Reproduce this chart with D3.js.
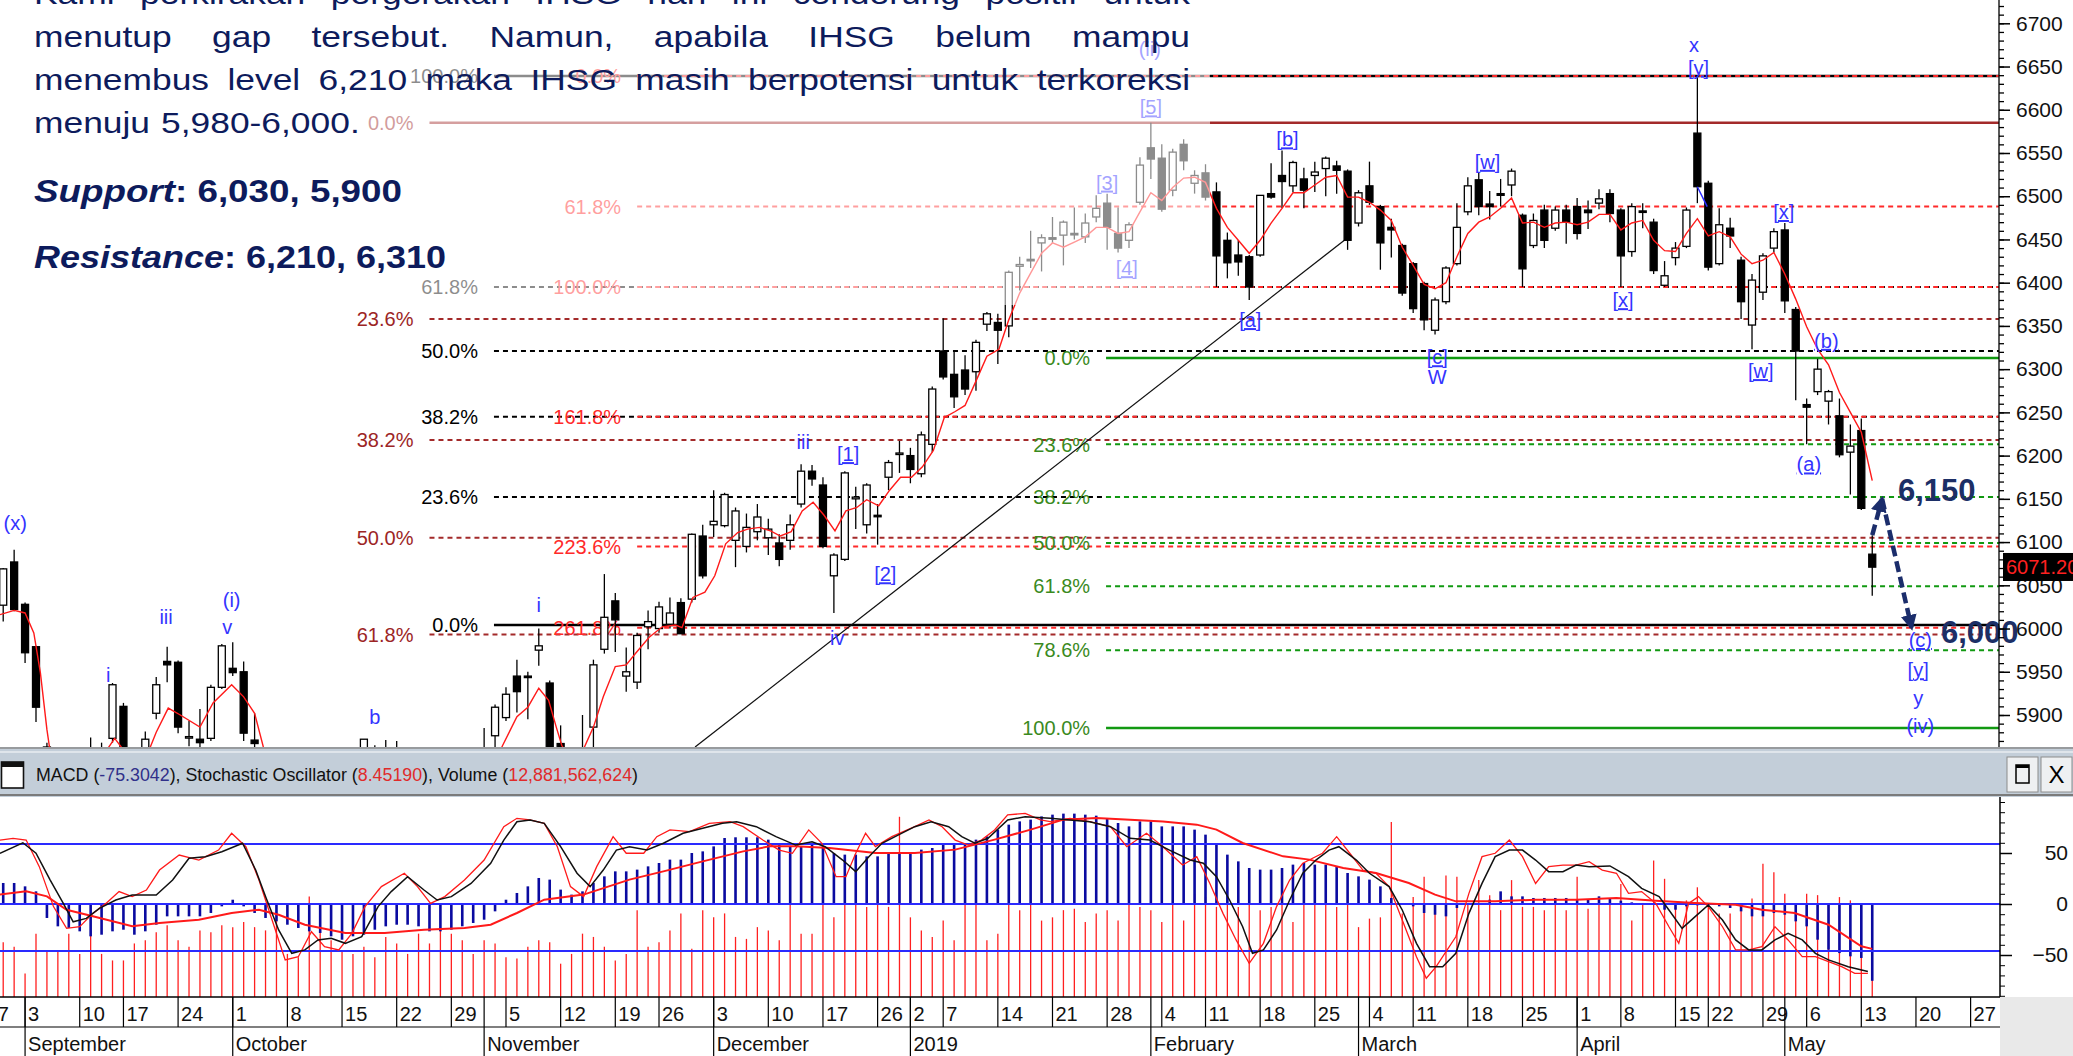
<!DOCTYPE html>
<html><head><meta charset="utf-8">
<script src="https://cdn.jsdelivr.net/npm/d3@7/dist/d3.min.js"></script>
<style>
html,body{margin:0;padding:0;background:#fff;overflow:hidden}
svg{display:block}
text{font-family:"Liberation Sans",Arial,sans-serif}
</style></head><body>
<svg id="chart" width="2073" height="1056"></svg>
<script>
// ---------------- DATA ----------------
// daily candles, slot index 0 = 3 Sep 2018 (first slot -3 = 29 Aug 2018), last slot 168 = 13 May 2019
const firstSlot = -3;
const opens = [6027,6077,6028,5979,5863,5690,5720,5790,5845,5830,5873,5910,5850,5858,5902,5962,5961,5874,5872,5873,5932,5954,5950,5871,
5860,5800,5750,5730,5720,5800,5710,5750,5720,5790,5860,5840,5835,5790,5780,5800,5750,5790,5750,5740,5840,
5876,5897,5945,5945,5975,5937,5867,5720,5730,5886,5976,6032,5945,5938,6002,6000,6005,6030,6034,6107,6120,6119,6102,6095,6112,6105,6099,6102,
6144,6182,6166,6061,6080,6150,6120,6131,6175,6202,6200,6179,6213,6321,6294,6299,6297,6352,6354,6350,6419,6427,6446,6452,6455,6457,6453,6476,
6492,6457,6449,6493,6556,6544,6507,6560,6515,6527,6505,6449,6432,6430,6432,6503,6524,6512,6520,6524,6532,6535,6529,6469,6512,6488,6464,6443,
6422,6399,6345,6378,6422,6482,6519,6491,6503,6513,6478,6443,6484,6463,6484,6488,6484,6492,6503,6484,6436,6483,6470,6397,6429,6442,6573,6515,
6422,6463,6426,6351,6389,6440,6461,6369,6259,6274,6263,6246,6204,6229,6086];
const highs = [6070,6091,6030,5980,5868,5740,5790,5855,5874,5868,5937,5914,5856,5881,5944,5979,5963,5893,5907,5935,5982,5984,5962,5902,
5862,5805,5760,5740,5830,5810,5760,5760,5770,5872,5865,5871,5870,5800,5810,5805,5800,5795,5760,5840,5885,
5912,5932,5964,5950,6000,5940,5888,5760,5900,5964,6063,6041,5978,5995,6021,6031,6036,6035,6110,6120,6160,6157,6140,6133,6144,6127,6109,6132,
6190,6189,6175,6087,6182,6164,6168,6144,6195,6217,6209,6228,6280,6359,6321,6316,6334,6366,6364,6414,6430,6460,6456,6476,6472,6487,6480,6501,
6503,6487,6470,6545,6585,6560,6555,6566,6530,6537,6516,6458,6449,6432,6501,6538,6553,6541,6533,6540,6546,6541,6531,6507,6540,6490,6474,6445,
6424,6401,6383,6419,6492,6522,6527,6506,6520,6532,6480,6480,6490,6488,6490,6498,6495,6508,6508,6486,6492,6492,6474,6425,6447,6487,6638,6518,
6486,6475,6430,6410,6434,6463,6469,6372,6266,6312,6276,6266,6236,6243,6108];
const lows = [6008,6020,5960,5892,5680,5660,5700,5780,5800,5790,5868,5845,5820,5850,5895,5938,5879,5864,5860,5870,5930,5945,5870,5855,
5800,5740,5710,5700,5710,5700,5690,5700,5710,5780,5820,5810,5790,5760,5770,5740,5740,5740,5700,5730,5830,
5850,5893,5903,5895,5957,5790,5700,5700,5720,5850,5971,5973,5927,5930,5976,5995,6000,5994,6030,6058,6106,6117,6071,6088,6102,6085,6072,6091,
6140,6165,6093,6018,6078,6115,6110,6097,6160,6180,6168,6175,6204,6288,6255,6270,6275,6344,6306,6337,6391,6417,6413,6446,6420,6450,6446,6470,
6438,6435,6440,6490,6520,6482,6500,6530,6503,6495,6395,6405,6408,6380,6430,6497,6486,6505,6486,6505,6500,6503,6438,6465,6490,6415,6429,6385,
6365,6345,6340,6375,6420,6478,6478,6473,6488,6500,6395,6440,6440,6460,6445,6450,6462,6485,6470,6395,6430,6463,6410,6395,6420,6440,6492,6414,
6420,6440,6358,6323,6380,6435,6365,6264,6213,6270,6236,6198,6155,6137,6038];
const closes = [6069,6022,5972,5909,5690,5720,5776,5851,5830,5815,5935,5850,5835,5872,5935,5958,5886,5875,5868,5932,5980,5949,5879,5867,
5810,5756,5731,5720,5820,5702,5756,5715,5756,5872,5845,5837,5797,5778,5804,5749,5796,5758,5727,5831,5860,
5909,5924,5927,5944,5980,5800,5712,5727,5840,5958,6013,6010,5950,5992,6008,6025,6018,5994,6109,6061,6124,6155,6136,6117,6129,6115,6080,6120,
6182,6173,6095,6085,6180,6152,6166,6130,6192,6203,6184,6224,6277,6291,6268,6277,6331,6364,6345,6412,6421,6426,6452,6451,6470,6456,6469,6486,
6464,6440,6467,6536,6543,6485,6551,6541,6524,6499,6431,6423,6424,6395,6501,6499,6517,6539,6507,6528,6544,6530,6449,6504,6493,6446,6461,6388,
6370,6357,6380,6417,6464,6512,6488,6488,6501,6529,6416,6472,6449,6484,6470,6457,6481,6497,6480,6431,6488,6482,6414,6408,6440,6484,6511,6418,
6467,6454,6378,6403,6431,6459,6379,6321,6256,6300,6274,6201,6211,6139,6071];

// 5-day moving average of close: [slot, price]
const maPoints = [[-3.3,6016],[-2,6021],[-1,6018],[-0.2,5995],[0.4,5949],[1,5883],[1.5,5840],[3,5760],[5,5800],[6.5,5860],[7.2,5873],[8.1,5858],[9,5845],[10.3,5858],[11,5880],[12.1,5908],[13.2,5900],[15,5886],[16.2,5914],[17.9,5935],[19,5921],[20,5902],[20.8,5863],[22,5830],[25,5780],[28,5755],[31,5790],[34,5815],[37,5790],[40,5790],[42.7,5865],[44,5898],[45,5909],[46,5931],[46.9,5917],[47.6,5886],[48.1,5865],[49,5845],[50,5858],[51,5886],[51.9,5921],[53,5956],[54,5958],[54.9,5972],[56.1,5990],[57.3,6002],[58.5,6004],[59.1,6001],[60.1,6036],[61.2,6042],[62.1,6061],[63.1,6098],[64.2,6111],[65.1,6115],[66.2,6117],[67.2,6113],[68.1,6107],[69.1,6112],[70.1,6136],[71.1,6146],[72.1,6131],[73.1,6113],[74.1,6136],[75.1,6140],[76,6149],[77.1,6142],[78.1,6160],[79.1,6175],[80.1,6175],[81.1,6187],[82.1,6206],[83.1,6244],[84.1,6251],[85,6258],[86.1,6289],[87,6315],[88.1,6323],[89,6357],[90,6388],[91,6411],[92,6434],[93,6446],[94,6441],[95,6447],[96,6453],[97,6464],[98,6464],[99,6457],[100,6459],[101,6482],[102,6504],[103,6495],[104,6510],[105,6521],[106,6522],[107,6516],[108,6486],[109,6464],[110,6449],[111,6434],[112,6449],[113,6469],[114,6486],[115,6504],[116,6504],[117,6513],[118,6522],[119,6524],[120,6499],[121,6499],[122,6493],[123,6484],[124,6472],[125,6441],[126,6420],[127,6398],[128,6393],[129,6400],[130,6430],[131,6457],[132,6470],[133,6476],[134,6486],[135,6498],[136,6469],[137,6470],[138,6464],[139,6469],[140,6470],[141,6467],[142,6470],[143,6479],[144,6479],[145,6461],[146,6469],[147,6472],[148,6449],[149,6437],[150,6436],[151,6457],[152,6474],[153,6454],[154,6459],[155,6453],[156,6433],[157,6422],[158,6426],[159,6435],[160,6410],[161,6381],[162,6349],[163,6323],[164,6305],[165,6273],[166,6250],[167,6227],[168,6171]];

// Fibonacci objects: level prices and labels
const fibA = {start:41.9, color:"#000000", labelColor:"#000000", prices:[6004,6152,6245,6321,6395,6639], labels:["0.0%","23.6%","38.2%","50.0%","61.8%","100.0%"], solid:[true,false,false,false,false,true]};
const fibB = {start:36.0, color:"#a32a2a", labelColor:"#9c2525", prices:[6585,6358,6218,6105,5993], labels:["0.0%","23.6%","38.2%","50.0%","61.8%"], solid:[true,false,false,false,false]};
const fibC = {start:55.0, color:"#ff2a2a", labelColor:"#ff2a2a", prices:[6639,6488,6395,6245,6095,6001], labels:["0.0%","61.8%","100.0%","161.8%","223.6%","261.8%"], solid:[false,false,false,false,false,false]};
const fibD = {start:97.9, color:"#119911", labelColor:"#3a8a1e", prices:[6313,6213,6152,6099,6049,5975,5885], labels:["0.0%","23.6%","38.2%","50.0%","61.8%","78.6%","100.0%"], solid:[true,false,false,false,false,false,true]};

// Elliott wave labels: [text, slot, price, boxed]
const waveLabels = [["(x)",-1.9,6122,0],["i",6.6,5946,0],["iii",11.9,6013,0],["(i)",17.9,6033,0],["v",17.5,6002,0],["b",31.0,5898,0],["i",46.0,6027,0],["iii",70.2,6216,0],["[1]",74.3,6202,1],["[2]",77.7,6063,1],["iv",73.3,5989,0],["[3]",98.0,6516,1],["[4]",99.8,6417,1],["[5]",102.0,6603,1],["(ii)",101.9,6671,0],["[a]",111.1,6357,1],["[b]",114.5,6566,1],["[c]",128.2,6314,1],["W",128.2,6291,0],["[w]",132.8,6540,1],["[x]",145.2,6380,1],["x",151.7,6675,0],["[y]",152.1,6649,1],["[x]",159.9,6482,1],["[w]",157.8,6298,1],["(b)",163.8,6333,1],["(a)",162.2,6190,1],["(c)",172.4,5987,1],["[y]",172.2,5952,1],["y",172.2,5920,0],["(iv)",172.4,5888,0]];

const trendLine = [[60.3,5863],[120,6452]];
const waveSeg = [[152,6511],[152.9,6488]];
const arrowUp = [[168,6108],[168.9,6150]];
const arrowDown = [[168.9,6150],[171.6,6001]];

// lower pane: MACD (histogram), signal, stochastic, volume (billions)
const macd = [20.6,20.6,17.3,12.4,-13.7,-21.9,-23.5,-26.8,-31.7,-30.1,-26.8,-25.2,-30.1,-26.8,-20.3,-12.1,-12.1,-12.1,-12.1,-8.8,
-2.3,4.2,-2.3,-8.8,-13.7,-17.0,-20.3,-23.5,-26.8,-28.4,-31.7,-35.0,-31.7,-30.1,-25.2,-21.9,-20.3,-20.3,-21.9,-26.8,
-26.8,-25.2,-21.9,-18.6,-15.4,-7.2,4.2,10.8,17.3,25.5,23.9,14.1,9.2,12.4,20.6,27.1,32.0,32.0,33.7,36.9,
40.2,43.5,43.5,50.0,51.6,56.5,64.7,65.4,65.4,65.4,63.1,59.8,56.5,56.5,58.2,56.5,50.0,48.4,48.4,46.7,
46.7,50.0,50.0,50.0,53.3,54.9,58.2,58.2,59.8,63.1,66.3,72.9,77.8,81.0,82.7,85.9,87.6,88.6,88.6,87.6,
86.6,84.3,79.4,76.1,81.0,81.0,76.1,76.1,76.1,72.9,68.0,58.2,48.4,41.8,35.3,33.7,33.7,35.3,38.6,40.2,
38.6,38.6,36.9,30.4,27.1,23.9,17.3,5.9,0,-2.3,-8.8,-10.5,-12.1,-3.9,-0.7,1.0,4.2,12.4,7.5,7.5,
5.9,5.9,5.9,5.9,4.2,4.2,7.5,4.9,3.3,1.6,1.0,-0.7,-5.6,-5.6,-2.3,-1.3,-0.7,-2.3,-3.9,-7.2,
-12.1,-12.1,-8.8,-10.5,-17.0,-21.9,-35.0,-44.8,-48.1,-51.3,-52.9,-75.3];
const signalPts = [[-3.3,9.2],[-0.9,12.4],[1.0,7.5],[2.8,-5.6],[5.2,-12.1],[8.8,-21.9],[11.3,-18.6],[14.9,-15.4],[17.9,-8.8],[20.4,-5.6],[22.2,-10.5],[24.6,-20.3],[28.3,-28.4],[31.9,-28.4],[35.5,-25.2],[39.2,-23.5],[41.6,-20.3],[44.0,-8.8],[46.5,4.2],[50.1,9.2],[54.3,23.9],[57.4,32.0],[61.0,41.8],[64.7,51.6],[67.1,56.5],[69.5,56.5],[72.6,54.9],[76.8,50.0],[80.4,50.0],[84.1,53.3],[87.7,63.1],[91.0,72.9],[94.0,82.7],[97.0,84.3],[100.1,82.7],[103.1,81.0],[106.2,77.8],[108.0,72.9],[110.4,59.8],[114.1,46.7],[116.5,43.5],[119.6,35.3],[122.6,30.4],[125.6,20.6],[128.0,9.2],[129.9,2.6],[133.5,2.6],[137.2,4.2],[140.9,4.2],[144.6,5.9],[148.2,3.3],[151.8,1.0],[155.5,-0.7],[157.9,-5.6],[160.9,-8.8],[164.0,-20.3],[167.0,-41.5],[168,-44]];
const stochSlow = [[-3.3,74.8],[-1.2,80.7],[0,74.8],[1.3,59.8],[2.5,46.7],[3.4,36.4],[4.6,38.3],[5.8,43.9],[7.3,48.6],[8.8,51.4],[11,51.4],[12.5,59.8],[14,72.0],[15.5,72.9],[17,75.7],[18.9,80.4],[20.1,65.4],[21,50.5],[22.2,31.8],[23.4,18.7],[24.6,20.6],[25.8,26.2],[27,27.1],[28.3,24.3],[29.8,28.0],[31.3,44.9],[32.5,53.3],[34,61.7],[35.5,54.2],[36.7,48.6],[38,50.5],[39.8,57.9],[41.6,69.2],[42.8,82.2],[44,92.5],[45.2,93.5],[46.5,91.6],[48,78.5],[49.5,63.6],[50.7,56.1],[51.9,65.4],[53.1,76.6],[54.3,78.5],[55.9,76.6],[57.4,80.4],[59.2,86.0],[61,88.8],[62.8,91.6],[64.1,92.5],[65.9,89.7],[67.7,84.1],[69.5,79.4],[71,81.3],[72.2,78.5],[73.8,71.0],[75,64.5],[76.2,72.9],[77.4,80.4],[78.6,84.1],[80.4,89.7],[81.9,92.5],[83.5,89.7],[84.7,84.1],[85.9,80.4],[87.1,83.2],[88.9,93.5],[90.5,95.3],[92.8,94.4],[94.6,93.5],[96.4,92.5],[98.3,89.7],[100.1,83.2],[101.9,82.2],[103.7,76.6],[105.6,71.0],[106.8,69.2],[108,61.7],[109.2,48.6],[110.4,33.6],[111.3,18.7],[112.3,20.6],[113.5,31.8],[114.7,48.6],[115.9,63.6],[117.1,71.0],[118.3,76.6],[119.2,78.5],[120.8,71.0],[122,63.6],[123.8,56.1],[125,43.0],[126.3,24.3],[127.5,11.2],[128.7,11.2],[129.9,18.7],[131.1,41.1],[132.3,57.9],[133.5,72.9],[134.8,76.6],[136,76.6],[137.2,71.0],[138.4,64.5],[139.7,64.5],[140.9,68.2],[142.1,67.3],[144,67.7],[145.7,61.7],[146.9,55.1],[148.5,50.5],[149.4,43.0],[150.6,32.7],[151.8,39.3],[153,45.8],[154.3,37.4],[155.5,26.2],[156.7,20.6],[157.9,20.6],[159.1,26.2],[160.3,29.9],[161.6,26.2],[162.8,18.7],[164,15.0],[165.8,11.2],[167.6,8.5]];
const stochFast = [[-3.3,82.2],[-2.1,83.2],[-0.9,82.2],[0.3,67.3],[1.6,44.9],[2.8,32.7],[4,33.6],[5.2,41.1],[6.4,46.7],[7.6,53.3],[8.8,50.5],[10.1,54.2],[11.3,65.4],[13.1,73.8],[14.9,71.0],[16.7,76.6],[17.9,86.0],[19.2,78.5],[20.4,59.8],[21.6,37.4],[22.8,15.0],[24,16.8],[25.2,30.8],[26.4,22.4],[27.7,20.6],[28.9,29.9],[30.1,44.9],[31.6,56.1],[33.7,63.6],[34.9,56.1],[36.1,46.7],[37.4,50.5],[39.2,59.8],[41,71.0],[42.8,89.7],[44,94.4],[45.2,93.5],[46.5,91.6],[47.7,78.5],[48.9,56.1],[50.1,50.5],[51.3,67.3],[52.8,84.1],[54,74.8],[55.6,74.8],[56.8,84.1],[58,87.9],[59.8,86.9],[61.6,91.6],[63.5,92.5],[64.7,89.7],[66.5,82.2],[68,76.6],[69.2,74.8],[70.7,87.9],[71.9,80.4],[73.2,61.7],[74.1,61.7],[75,74.8],[75.9,86.0],[76.8,78.5],[78.3,84.1],[80.4,89.7],[81.7,93.5],[82.9,89.7],[84.1,82.2],[85.3,79.4],[86.5,82.2],[87.7,87.9],[88.9,96.3],[90.5,97.2],[91.9,93.5],[92.8,92.5],[94.6,94.4],[96.4,92.5],[98.3,89.7],[99.8,78.5],[101.6,86.0],[103.1,78.5],[104.9,68.2],[106.2,72.9],[107.4,57.9],[108.6,41.1],[109.8,26.2],[111,13.1],[112.3,24.3],[113.5,44.9],[114.7,59.8],[115.9,69.2],[117.7,74.8],[119,84.1],[120.2,74.8],[121.4,65.4],[122.6,63.6],[123.8,56.1],[125,37.4],[126.3,16.8],[127.2,4.7],[128.1,11.2],[129.9,28.0],[131.1,52.3],[132.3,72.9],[133.5,74.8],[134.8,82.2],[136,72.9],[137.2,57.9],[138.4,67.3],[139.7,68.2],[140.9,68.2],[142.1,70.1],[143.3,65.4],[144.6,63.6],[145.7,52.3],[146.9,53.3],[148.2,46.7],[149.4,33.6],[150.3,24.3],[151.2,46.7],[152.1,50.5],[153,44.9],[154.3,33.6],[155.5,20.6],[156.7,20.6],[157.9,22.4],[159.1,33.6],[160.3,26.2],[161.6,16.8],[162.8,16.8],[164,14.0],[165.2,11.2],[166.4,7.5],[167.6,7.5]];
const volume = [8.4,7.7,3.6,9.7,7.1,7.1,9.7,6.6,10.2,6.6,5.6,5.6,8.2,8.7,9.9,11.0,8.7,7.7,10.2,9.9,
11.0,10.7,11.5,10.7,10.2,13.3,6.6,6.1,15.4,10.7,8.7,7.1,6.6,7.7,6.1,9.2,8.2,6.6,9.7,8.2,
10.7,9.7,8.7,6.6,8.7,8.2,6.1,5.9,7.7,8.7,8.4,5.1,6.6,9.7,9.2,7.7,5.6,6.6,13.3,7.7,
8.4,10.2,12.8,7.4,13.3,12.2,12.8,9.2,8.9,10.7,10.2,8.7,14.3,9.7,9.7,15.8,12.2,14.3,17.3,13.8,
16.3,13.8,27.6,12.2,10.2,9.2,11.7,8.7,15.8,16.1,8.7,9.7,19.1,13.3,14.8,
11.7,12.2,13.3,13.5,11.5,12.8,13.3,11.7,16.8,13.8,13.3,11.5,17.3,11.7,15.8,15.3,13.8,14.8,13.8,16.3,
13.3,13.8,14.8,11.5,17.3,16.3,14.8,13.8,16.1,10.7,12.0,12.2,26.8,12.8,15.3,18.4,12.8,18.6,18.4,14.3,
17.9,15.6,13.3,17.9,13.8,13.8,13.3,14.3,13.3,18.4,13.5,15.3,14.3,17.3,11.7,14.3,20.9,18.1,13.8,14.8,
16.8,14.3,12.8,12.8,14.3,15.1,20.4,19.1,15.8,14.3,15.8,15.6,14.3,15.3,14.8,14.0,12.8];

// time axis: [label, slot]
const dayTicks = [["27",-4.8],["3",-1],["10",4],["17",8],["24",13],["1",18],["8",23],["15",28],["22",33],["29",38],["5",43],["12",48],["19",53],["26",57],["3",62],["10",67],["17",72],["26",77],["2",80],["7",83],["14",88],["21",93],["28",98],["4",103],["11",107],["18",112],["25",117],["4",122],["11",126],["18",131],["25",136],["1",141],["8",145],["15",150],["22",153],["29",158],["6",162],["13",167],["20",172],["27",177]];
const monthTicks = [["September",-1],["October",18],["November",41],["December",62],["2019",80],["February",102],["March",121],["April",141],["May",160]];
const priceTicks = [5900,5950,6000,6050,6100,6150,6200,6250,6300,6350,6400,6450,6500,6550,6600,6650,6700];
const lastPrice = 6071.2;

const textLines = ["Kami perkirakan pergerakan IHSG hari ini cenderung positif untuk",
 "menutup gap tersebut. Namun, apabila IHSG belum mampu",
 "menembus level 6,210 maka IHSG masih berpotensi untuk terkoreksi",
 "menuju 5,980-6,000."];

// ---------------- DRAWING ----------------
const svg = d3.select("#chart");
const x = d3.scaleLinear().domain([0,168]).range([36, 36+168*10.93]);
const y = d3.scaleLinear().domain([5900,6700]).range([715, 23.3]);
const yMacd = d3.scaleLinear().domain([-50,50]).range([955,853]);
const yStoch = d3.scaleLinear().domain([20,80]).range([951,844]);
const yVol = d3.scaleLinear().domain([0,10]).range([997,931.7]);
const PANE_R = 1999, PANE_B = 747;

const defs = svg.append("defs");
defs.append("clipPath").attr("id","clipP").append("rect").attr("x",0).attr("y",0).attr("width",PANE_R).attr("height",PANE_B);
defs.append("clipPath").attr("id","clipL").append("rect").attr("x",0).attr("y",797).attr("width",2000).attr("height",200);
const mk = defs.append("marker").attr("id","arr").attr("viewBox","0 0 10 10").attr("refX",8).attr("refY",5)
  .attr("markerWidth",16).attr("markerHeight",16).attr("markerUnits","userSpaceOnUse").attr("orient","auto");
mk.append("path").attr("d","M0,0L10,5L0,10z").attr("fill","#1b2d6b");

const pane = svg.append("g").attr("clip-path","url(#clipP)");

// fib lines
[fibB, fibA, fibC, fibD].forEach(f=>{
  const g = pane.append("g");
  f.prices.forEach((p,k)=>{
    g.append("line").attr("x1",x(f.start)).attr("x2",PANE_R).attr("y1",y(p)).attr("y2",y(p))
     .attr("stroke",f.color).attr("stroke-width", f.solid[k]?2.5:2)
     .attr("stroke-dasharray", f.solid[k]?null:"5,4");
    g.append("text").attr("x",x(f.start)-16).attr("y",y(p)).attr("dy","0.36em").attr("text-anchor","end")
     .attr("font-size",20).attr("fill",f.labelColor).text(f.labels[k]);
  });
});

// trend line
const lineGen = d3.line().x(d=>x(d[0])).y(d=>y(d[1]));
pane.append("path").attr("d",lineGen(trendLine)).attr("stroke","#111").attr("stroke-width",1.3).attr("fill","none");

// candles
const candles = opens.map((o,k)=>({slot:firstSlot+k,o,h:highs[k],l:lows[k],c:closes[k]}));
const cg = pane.append("g");
cg.selectAll("line").data(candles).join("line")
  .attr("x1",d=>x(d.slot)).attr("x2",d=>x(d.slot)).attr("y1",d=>y(d.h)).attr("y2",d=>y(d.l))
  .attr("stroke","#000").attr("stroke-width",1.3);
cg.selectAll("rect").data(candles).join("rect")
  .attr("x",d=>x(d.slot)-3.5).attr("width",7)
  .attr("y",d=>y(Math.max(d.o,d.c))).attr("height",d=>Math.max(1.5,Math.abs(y(d.o)-y(d.c))))
  .attr("fill",d=>d.c>=d.o?"#fff":"#000").attr("stroke","#000").attr("stroke-width",1.3);

// moving average
pane.append("path").attr("d",lineGen(maPoints)).attr("stroke","#ff1a1a").attr("stroke-width",1.4).attr("fill","none");
pane.append("path").attr("d",lineGen(waveSeg)).attr("stroke","#2a2aff").attr("stroke-width",1.5).attr("fill","none");

// wave labels
pane.append("g").selectAll("text").data(waveLabels).join("text")
  .attr("x",d=>x(d[1])).attr("y",d=>y(d[2])).attr("dy","0.36em").attr("text-anchor","middle")
  .attr("font-size",20).attr("fill","#3434ff").attr("text-decoration",d=>d[3]?"underline":null).text(d=>d[0]);

// arrows + targets
[arrowUp, arrowDown].forEach(a=>{
  pane.append("path").attr("d",lineGen(a)).attr("stroke","#1b2d6b").attr("stroke-width",4.5)
   .attr("stroke-dasharray","11,5").attr("fill","none").attr("marker-end","url(#arr)");
});
svg.append("text").attr("x",1898).attr("y",501).attr("font-family","'Open Sans',sans-serif").attr("font-weight",700)
  .attr("font-size",31).attr("fill","#1c2f66").text("6,150");
svg.append("text").attr("x",1941).attr("y",643).attr("font-family","'Open Sans',sans-serif").attr("font-weight",700)
  .attr("font-size",31).attr("fill","#1c2f66").text("6,000");

// overlay with commentary
svg.append("rect").attr("x",0).attr("y",0).attr("width",1210).attr("height",305).attr("fill","#fff").attr("opacity",0.55);
const tg = svg.append("g").attr("fill","#0d1b5c").attr("font-family","'Open Sans',sans-serif").attr("font-size",29);
function justifyLine(str, yb, x0, x1, stretch){
  const words = str.split(" ");
  const nodes = words.map(w=>tg.append("text").attr("y",yb).text(w));
  const widths = nodes.map(n=>n.node().getComputedTextLength()*stretch);
  nodes.forEach((n,k)=>n.attr("textLength",widths[k]).attr("lengthAdjust","spacingAndGlyphs"));
  const gap = x1==null ? 9*stretch : (x1-x0-d3.sum(widths))/(words.length-1);
  let cx = x0;
  nodes.forEach((n,k)=>{ n.attr("x",cx); cx += widths[k]+gap; });
}
justifyLine(textLines[0], 4, 34, 1190, 1.22);
justifyLine(textLines[1], 47, 34, 1190, 1.22);
justifyLine(textLines[2], 90, 34, 1190, 1.22);
justifyLine(textLines[3], 133, 34, null, 1.22);
function boldLine(label, rest, yb, targetW){
  const t = tg.append("text").attr("x",34).attr("y",yb).attr("font-weight",700).attr("font-size",31);
  t.append("tspan").attr("font-style","italic").text(label);
  t.append("tspan").text(rest);
  t.attr("textLength",targetW).attr("lengthAdjust","spacingAndGlyphs");
}
boldLine("Support", ": 6,030, 5,900", 202, 368);
boldLine("Resistance", ": 6,210, 6,310", 268, 412);

// price axis
const axisG = svg.append("g").attr("transform",`translate(${PANE_R},0)`);
axisG.append("line").attr("x1",0).attr("x2",0).attr("y1",0).attr("y2",PANE_B).attr("stroke","#000").attr("stroke-width",1.5);
axisG.call(d3.axisRight(y).tickValues(d3.range(5860,6730,10)).tickSize(5).tickFormat(""))
  .call(g=>{g.select(".domain").remove(); g.selectAll("line").attr("stroke","#000").attr("stroke-width",1.3);});
const majG = svg.append("g").attr("transform",`translate(${PANE_R},0)`);
majG.call(d3.axisRight(y).tickValues(priceTicks).tickSize(11).tickPadding(6).tickFormat(d3.format("d")))
  .call(g=>{g.select(".domain").remove(); g.selectAll("line").attr("stroke","#000").attr("stroke-width",1.5);
    g.selectAll("text").attr("font-size",21).attr("font-family","'Liberation Sans',Arial,sans-serif").attr("fill","#111");});
svg.append("rect").attr("x",2003).attr("y",y(lastPrice)-14).attr("width",72).attr("height",28).attr("fill","#000");
svg.append("text").attr("x",2006).attr("y",y(lastPrice)).attr("dy","0.36em").attr("font-size",20).attr("fill","#ff2020").text(d3.format(".3f")(lastPrice));

// separator + header of lower pane
svg.append("rect").attr("x",0).attr("y",747).attr("width",2073).attr("height",50).attr("fill","#c3ced9");
svg.append("line").attr("x1",0).attr("x2",2073).attr("y1",748).attr("y2",748).attr("stroke","#8a8a8a").attr("stroke-width",1.5);
svg.append("line").attr("x1",0).attr("x2",2073).attr("y1",752).attr("y2",752).attr("stroke","#e8ecf0").attr("stroke-width",1.5);
svg.append("line").attr("x1",0).attr("x2",2073).attr("y1",795).attr("y2",795).attr("stroke","#7b7b7b").attr("stroke-width",2);
svg.append("rect").attr("x",1.5).attr("y",762).attr("width",22).attr("height",26).attr("fill","#fff").attr("stroke","#111").attr("stroke-width",1.6);
svg.append("rect").attr("x",1.5).attr("y",762).attr("width",22).attr("height",5).attr("fill","#111");
const ht = svg.append("text").attr("x",36).attr("y",781).attr("font-size",18).attr("fill","#111");
[["MACD (","#111"],["-75.3042","#30308a"],["), Stochastic Oscillator (","#111"],["8.45190","#e02a2a"],["), Volume (","#111"],["12,881,562,624","#e02a2a"],[")","#111"]]
  .forEach(p=>ht.append("tspan").attr("fill",p[1]).text(p[0]));
ht.attr("textLength",602).attr("lengthAdjust","spacingAndGlyphs");
[[2007,"win"],[2041,"X"]].forEach(b=>{
  svg.append("rect").attr("x",b[0]).attr("y",757).attr("width",31).attr("height",35).attr("fill","#eef0f2").attr("stroke","#8c8c8c");
  if(b[1]==="X") svg.append("text").attr("x",b[0]+15.5).attr("y",783).attr("text-anchor","middle").attr("font-size",24).attr("fill","#000").text("X");
  else { svg.append("rect").attr("x",b[0]+9).attr("y",765).attr("width",13).attr("height",18).attr("fill","none").attr("stroke","#000").attr("stroke-width",1.5);
         svg.append("rect").attr("x",b[0]+9).attr("y",765).attr("width",13).attr("height",3).attr("fill","#000"); }
});

// lower pane
const low = svg.append("g").attr("clip-path","url(#clipL)");
const vols = volume.map((v,k)=>({slot:firstSlot+k,v}));
low.selectAll("line.vol").data(vols).join("line").attr("class","vol")
  .attr("x1",d=>x(d.slot)).attr("x2",d=>x(d.slot)).attr("y1",yVol(0)).attr("y2",d=>yVol(d.v))
  .attr("stroke","#ff2020").attr("stroke-width",1.3);
const hist = macd.map((v,k)=>({slot:firstSlot+k,v}));
low.selectAll("rect.h").data(hist).join("rect").attr("class","h")
  .attr("x",d=>x(d.slot)-1.3).attr("width",2.6)
  .attr("y",d=>Math.min(yMacd(0),yMacd(d.v))).attr("height",d=>Math.abs(yMacd(d.v)-yMacd(0)))
  .attr("fill","#0a0aa0");
[yStoch(80), yMacd(0), yStoch(20)].forEach(v=>low.append("line").attr("x1",0).attr("x2",2000).attr("y1",v).attr("y2",v).attr("stroke","#2a2aff").attr("stroke-width",2.2));
const lineS = d3.line().x(d=>x(d[0])).y(d=>yStoch(d[1]));
const lineM = d3.line().x(d=>x(d[0])).y(d=>yMacd(d[1]));
low.append("path").attr("d",lineM(signalPts)).attr("stroke","#ff1a1a").attr("stroke-width",2).attr("fill","none");
low.append("path").attr("d",lineS(stochFast)).attr("stroke","#ff1a1a").attr("stroke-width",1.3).attr("fill","none");
low.append("path").attr("d",lineS(stochSlow)).attr("stroke","#111").attr("stroke-width",1.5).attr("fill","none");

// lower right axis
const lax = svg.append("g").attr("transform","translate(2000,0)");
lax.append("line").attr("y1",797).attr("y2",997).attr("stroke","#000").attr("stroke-width",1.5);
lax.call(d3.axisRight(yMacd).tickValues(d3.range(-90,101,10)).tickSize(5).tickFormat(""))
  .call(g=>{g.select(".domain").remove(); g.selectAll("line").attr("stroke","#000");});
const lax2 = svg.append("g").attr("transform","translate(2000,0)");
lax2.call(d3.axisRight(yMacd).tickValues([-50,0,50]).tickSize(12).tickPadding(0).tickFormat(d3.format("d")))
  .call(g=>{g.select(".domain").remove(); g.selectAll("line").attr("stroke","#000").attr("stroke-width",1.5);
    g.selectAll("text").attr("x",68).attr("text-anchor","end").attr("font-size",21).attr("font-family","'Liberation Sans',Arial,sans-serif").attr("fill","#111");});

// time axis
svg.append("rect").attr("x",2000).attr("y",997).attr("width",73).attr("height",59).attr("fill","#e9e9e9");
svg.append("line").attr("x1",0).attr("x2",2000).attr("y1",997).attr("y2",997).attr("stroke","#000").attr("stroke-width",1.5);
svg.append("line").attr("x1",0).attr("x2",2000).attr("y1",1027).attr("y2",1027).attr("stroke","#000").attr("stroke-width",1.2);
const tx = d=>x(d[1]);
svg.append("g").selectAll("line").data(dayTicks).join("line").attr("x1",tx).attr("x2",tx).attr("y1",997).attr("y2",1027).attr("stroke","#000").attr("stroke-width",1.2);
svg.append("g").selectAll("text").data(dayTicks).join("text").attr("x",d=>tx(d)+3).attr("y",1021).attr("font-size",20).attr("fill","#111").text(d=>d[0]);
svg.append("g").selectAll("line").data(monthTicks).join("line").attr("x1",tx).attr("x2",tx).attr("y1",997).attr("y2",1056).attr("stroke","#000").attr("stroke-width",1.2);
svg.append("g").selectAll("text").data(monthTicks).join("text").attr("x",d=>tx(d)+3).attr("y",1051).attr("font-size",20).attr("fill","#111").text(d=>d[0]);
</script></body></html>
